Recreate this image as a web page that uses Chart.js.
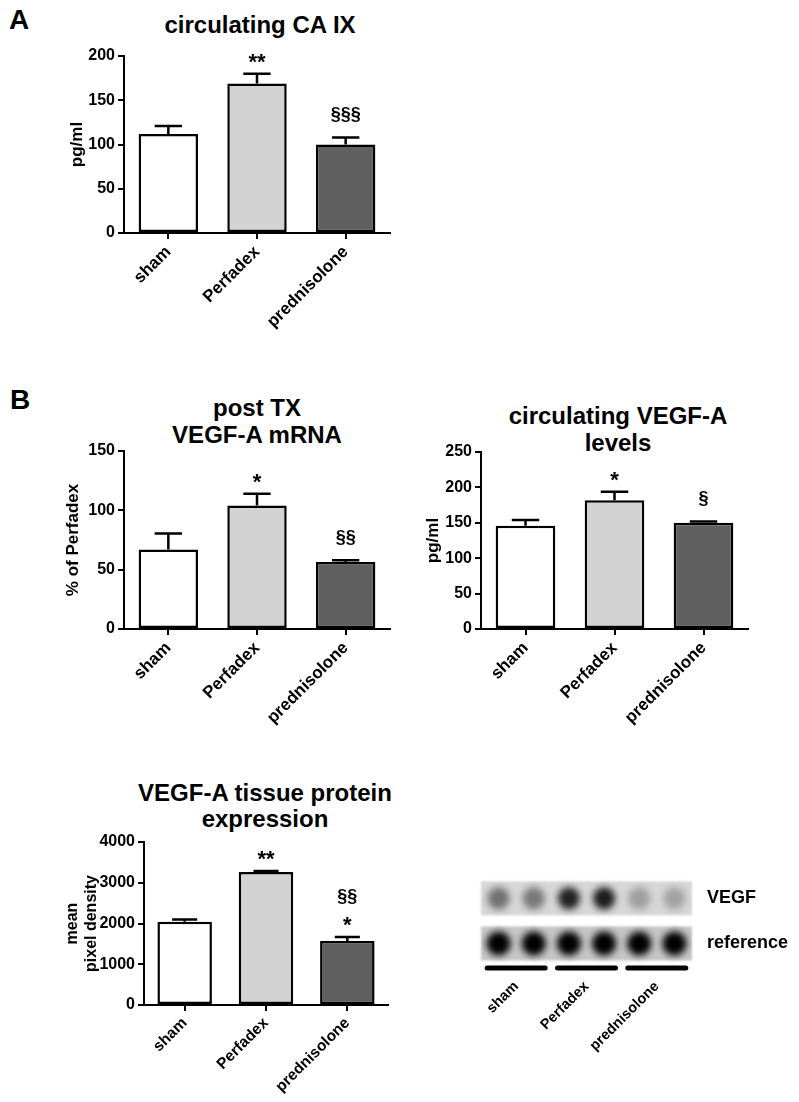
<!DOCTYPE html>
<html>
<head>
<meta charset="utf-8">
<script src="https://cdn.jsdelivr.net/npm/chart.js@4.4.1/dist/chart.umd.min.js"></script>
<style>
  body { margin: 0; background: #fff; font-family: "Liberation Sans", Arial, sans-serif; }
  #page { position: relative; width: 799px; height: 1102px; overflow: hidden; }
  .box { position: absolute; }
  .txt { position: absolute; font-weight: bold; color: #000; white-space: nowrap; }
  .panel { font-size: 28px; line-height: 28px; }
  .ttl { font-size: 24px; line-height: 27px; text-align: center; transform: translateX(-50%); }
</style>
</head>
<body>
<div id="page">
  <div class="txt panel" style="left:9px;top:6px">A</div>
  <div class="txt panel" style="left:10px;top:386px">B</div>

  <div class="txt ttl" style="left:260px;top:11px">circulating CA IX</div>
  <div class="txt ttl" style="left:257px;top:394px">post TX<br>VEGF-A mRNA</div>
  <div class="txt ttl" style="left:618px;top:402px">circulating VEGF-A<br>levels</div>
  <div class="txt ttl" style="left:265px;top:780px;line-height:26px">VEGF-A tissue protein<br>expression</div>

  <div class="box" style="left:0;top:0;width:400px;height:360px"><canvas id="chartA"></canvas></div>
  <div class="box" style="left:0;top:360px;width:400px;height:380px"><canvas id="chartB1"></canvas></div>
  <div class="box" style="left:390px;top:360px;width:409px;height:380px"><canvas id="chartB2"></canvas></div>
  <div class="box" style="left:0;top:740px;width:400px;height:362px"><canvas id="chartC"></canvas></div>
  <div class="box" style="left:460px;top:850px;width:339px;height:252px"><canvas id="blot"></canvas></div>
</div>

<script>
// --- DATA ---
const groups = ['sham', 'Perfadex', 'prednisolone'];
const barColors = ['#ffffff', '#d3d3d3', '#5f5f5f'];

const caixValues = [112, 169, 100];
const caixErrors = [9, 11, 8];
const caixMarks = [[], ['**'], ['§§§']];
const caixTicks = [0, 50, 100, 150, 200];

const mrnaValues = [67, 104, 56.5];
const mrnaErrors = [13.5, 10, 1.5];
const mrnaMarks = [[], ['*'], ['§§']];
const mrnaTicks = [0, 50, 100, 150];

const vegfValues = [146, 182, 150];
const vegfErrors = [8, 12, 2];
const vegfMarks = [[], ['*'], ['§']];
const vegfTicks = [0, 50, 100, 150, 200, 250];

const tissueValues = [2040, 3265, 1570];
const tissueErrors = [60, 25, 100];
const tissueMarks = [[], ['**'], ['§§', '*']];
const tissueTicks = [0, 1000, 2000, 3000, 4000];

// dot blot: relative darkness of each spot (0 = none, 1 = black)
const blotRows = ['VEGF', 'reference'];
const blotLanes = [0.5, 1.5, 2.5, 3.5, 4.5, 5.5];
const vegfSpots = [0.5, 0.47, 0.85, 0.88, 0.3, 0.28];
const referenceSpots = [1, 1, 1, 1, 1, 1];

Chart.defaults.font.family = '"Liberation Sans", Arial, sans-serif';
Chart.defaults.font.weight = 'bold';
Chart.defaults.color = '#000';

// --- PLUGINS ---
function errorBarPlugin(errors, marks) {
    return {
        id: 'errorBars',
        afterDatasetsDraw(chart) {
            const { ctx } = chart;
            const y = chart.scales.y;
            const vals = chart.data.datasets[0].data;
            ctx.save();
            ctx.strokeStyle = '#000';
            ctx.lineWidth = 2.5;
            ctx.fillStyle = '#000';
            ctx.textAlign = 'center';
            ctx.textBaseline = 'middle';
            chart.getDatasetMeta(0).data.forEach((bar, i) => {
                const top = y.getPixelForValue(vals[i] + errors[i]);
                const cap = bar.width * 0.23;
                ctx.beginPath();
                ctx.moveTo(bar.x, bar.y);
                ctx.lineTo(bar.x, top);
                ctx.moveTo(bar.x - cap, top);
                ctx.lineTo(bar.x + cap, top);
                ctx.stroke();

                // significance marks, stacked upward from the error bar
                const lines = marks[i].slice().reverse();
                let cy = top - 16;
                lines.forEach(t => {
                    if (t.includes('*')) {
                        ctx.font = 'bold 22px "Liberation Sans", Arial';
                        ctx.fillText(t, bar.x, cy + 5);
                    } else {
                        ctx.font = 'bold 18px "Liberation Sans", Arial';
                        ctx.fillText(t, bar.x, cy - 6);
                    }
                    cy -= 18;
                });
            });
            ctx.restore();
        }
    };
}

function makeBarChart(id, values, errors, marks, ticks, yTitle, box) {
    const canvas = document.getElementById(id);
    return new Chart(canvas, {
        type: 'bar',
        data: {
            labels: groups,
            datasets: [{
                data: values,
                backgroundColor: barColors,
                borderColor: '#000',
                borderWidth: 2.5,
                borderSkipped: false,
                barPercentage: 0.67,
                categoryPercentage: 1
            }]
        },
        options: {
            responsive: true,
            maintainAspectRatio: false,
            animation: false,
            layout: { padding: { left: box.padLeft, top: box.top, right: box.right, bottom: 0 } },
            plugins: { legend: { display: false }, tooltip: { enabled: false } },
            scales: {
                x: {
                    grid: { display: true, drawOnChartArea: false, offset: false, drawTicks: true, tickLength: 6, color: '#000', lineWidth: 2 },
                    border: { display: true, color: '#000', width: 2 },
                    ticks: { minRotation: 45, maxRotation: 45, autoSkip: false, padding: 3, font: { size: box.xFont, weight: 'bold' } },
                    afterFit: s => { s.height = box.xHeight; }
                },
                y: {
                    min: ticks[0],
                    max: ticks[ticks.length - 1],
                    afterBuildTicks: s => { s.ticks = ticks.map(v => ({ value: v })); },
                    grid: { display: true, drawOnChartArea: false, drawTicks: true, tickLength: 6, color: '#000', lineWidth: 2 },
                    border: { display: true, color: '#000', width: 2 },
                    ticks: { padding: 3, font: { size: 16, weight: 'bold' }, callback: v => String(v) },
                    title: { display: true, text: yTitle, padding: 0, font: { size: box.titleFont, weight: 'bold' } },
                    afterFit: s => { s.width = box.yWidth; }
                }
            }
        },
        plugins: [errorBarPlugin(errors, marks)]
    });
}

makeBarChart('chartA', caixValues, caixErrors, caixMarks, caixTicks, 'pg/ml',
    { padLeft: 67, yWidth: 57, top: 56, right: 10, xHeight: 127, xFont: 17, titleFont: 17 });
makeBarChart('chartB1', mrnaValues, mrnaErrors, mrnaMarks, mrnaTicks, '% of Perfadex',
    { padLeft: 63, yWidth: 61, top: 91, right: 10, xHeight: 111, xFont: 17, titleFont: 17 });
makeBarChart('chartB2', vegfValues, vegfErrors, vegfMarks, vegfTicks, 'pg/ml',
    { padLeft: 33, yWidth: 58, top: 92, right: 51, xHeight: 111, xFont: 17, titleFont: 17 });
makeBarChart('chartC', tissueValues, tissueErrors, tissueMarks, tissueTicks, ['mean', 'pixel density'],
    { padLeft: 63, yWidth: 81, top: 102, right: 12, xHeight: 97, xFont: 15.5, titleFont: 16 });

// --- DOT BLOT ---
const stripColors = ['#d7d7d7', '#c6c6c6'];
const gray = d => { const g = Math.round(225 * (1 - d)); return `rgb(${g},${g},${g})`; };

const blotPlugin = {
    id: 'blotStrips',
    beforeDatasetsDraw(chart) {
        const { ctx, chartArea } = chart;
        const y = chart.scales.y;
        ctx.save();
        ctx.filter = 'blur(1px)';
        blotRows.forEach((r, i) => {
            const cy = y.getPixelForValue(i);
            ctx.fillStyle = stripColors[i];
            ctx.fillRect(chartArea.left, cy - 17, chartArea.right - chartArea.left, 34);
        });
        ctx.restore();
    },
    beforeDatasetDraw(chart) { chart.ctx.save(); chart.ctx.filter = 'blur(3.5px)'; },
    afterDatasetDraw(chart) { chart.ctx.restore(); },
    afterDatasetsDraw(chart) {
        const { ctx, chartArea } = chart;
        const g = chart.scales.g;
        ctx.save();
        ctx.strokeStyle = '#000';
        ctx.lineWidth = 5;
        ctx.lineCap = 'round';
        groups.forEach((name, i) => {
            const cx = g.getPixelForValue(i);
            ctx.beginPath();
            ctx.moveTo(cx - 29, chartArea.bottom + 2);
            ctx.lineTo(cx + 29, chartArea.bottom + 2);
            ctx.stroke();
        });
        ctx.restore();
    }
};

new Chart(document.getElementById('blot'), {
    type: 'scatter',
    data: {
        datasets: [
            {
                data: blotLanes.map(x => ({ x, y: 'VEGF' })),
                pointRadius: 11,
                pointBorderWidth: 0,
                pointBackgroundColor: vegfSpots.map(gray)
            },
            {
                data: blotLanes.map(x => ({ x, y: 'reference' })),
                pointRadius: 12,
                pointBorderWidth: 0,
                pointBackgroundColor: referenceSpots.map(gray)
            }
        ]
    },
    options: {
        responsive: true,
        maintainAspectRatio: false,
        animation: false,
        layout: { padding: { left: 21, top: 16, right: 0, bottom: 0 } },
        plugins: { legend: { display: false }, tooltip: { enabled: false } },
        scales: {
            x: { type: 'linear', min: 0, max: 6, display: false },
            y: {
                type: 'category',
                labels: blotRows,
                position: 'right',
                offset: true,
                grid: { display: false, drawTicks: false },
                border: { display: false },
                ticks: { padding: 15, font: { size: 18, weight: 'bold' } },
                afterFit: s => { s.width = 107; }
            },
            g: {
                type: 'category',
                labels: groups,
                position: 'bottom',
                offset: true,
                grid: { display: false, drawTicks: false },
                border: { display: false },
                ticks: { minRotation: 45, maxRotation: 45, autoSkip: false, padding: 12, font: { size: 14.5, weight: 'bold' } },
                afterFit: s => { s.height = 136; }
            }
        }
    },
    plugins: [blotPlugin]
});
</script>
</body>
</html>
